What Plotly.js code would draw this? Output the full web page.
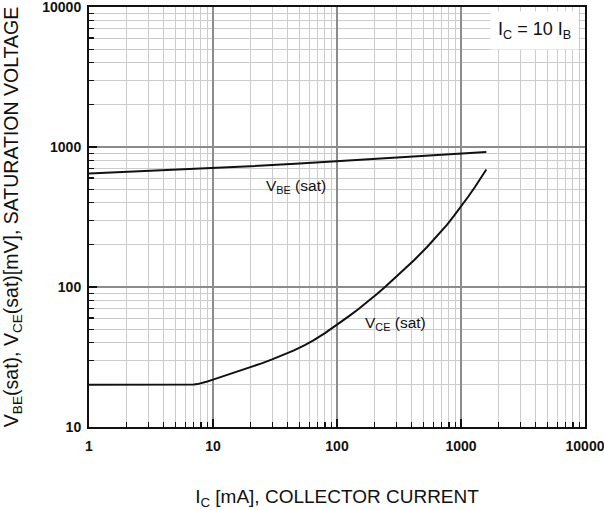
<!DOCTYPE html>
<html>
<head>
<meta charset="utf-8">
<script src="https://cdn.plot.ly/plotly-3.0.1.min.js"></script>
<style>html,body{margin:0;padding:0;background:#fff;}#chart{width:604px;height:510px;}</style>
</head>
<body>
<div id="chart"></div>
<script>
// Collector current [mA] and saturation voltages [mV]
var icVbe = [1, 2, 5, 10, 20, 50, 100, 200, 500, 1000, 1600];
var vbeSat = [648, 665, 690, 708, 728, 762, 792, 822, 862, 895, 920];

var icVce = [1, 4, 6.5, 7, 7.5, 8, 8.5, 9, 10, 11, 13, 16, 20, 25, 30, 35, 45, 55, 64, 80, 100, 125, 150, 184, 210, 244, 300, 350, 420, 533, 650, 770, 880, 1000, 1150, 1300, 1450, 1600];
var vceSat = [20, 20, 20, 20.08, 20.25, 20.5, 20.8, 21.12, 21.8, 22.4, 23.5, 24.9, 26.6, 28.6, 30.4, 32.1, 35.3, 38.5, 41.4, 46.8, 53.5, 62, 70, 80.5, 89, 100, 118, 134, 156, 193, 233, 278, 323, 375, 445, 520, 601, 690];

var xTickVals = [1, 10, 100, 1000, 10000];
var xTickText = ['1', '10', '100', '1000', '10000'];
var yTickVals = [10, 100, 1000, 10000];
var yTickText = ['10', '100', '1000', '10000'];

var FONT = 'Liberation Sans, Arial, sans-serif';
function bold(a) { return a.map(function (s) { return '<b>' + s + '</b>'; }); }

var traces = [
  {x: icVbe, y: vbeSat, mode: 'lines', line: {color: '#111', width: 2}, hoverinfo: 'none'},
  {x: icVce, y: vceSat, mode: 'lines', line: {color: '#111', width: 2}, hoverinfo: 'none'}
];

var axisCommon = {
  type: 'log',
  showline: true, linecolor: '#111', linewidth: 2, mirror: true,
  showgrid: true, gridcolor: '#8c8c8c', gridwidth: 1.5,
  ticks: 'inside', ticklen: 8, tickcolor: '#111', tickwidth: 1.5,
  tickfont: {family: FONT, size: 14, color: '#111'},
  ticklabeloverflow: 'allow',
  tickmode: 'array',
  zeroline: false,
  minor: {dtick: 'D1', showgrid: true, gridcolor: '#cccccc', gridwidth: 1, ticks: 'inside', ticklen: 5, tickcolor: '#111', tickwidth: 1.2}
};

var layout = {
  width: 604, height: 510,
  margin: {l: 89, r: 19, t: 7, b: 83},
  paper_bgcolor: '#fff', plot_bgcolor: '#fff',
  showlegend: false,
  xaxis: Object.assign({}, axisCommon, {
    range: [0, 4], tickvals: xTickVals, ticktext: bold(xTickText), ticklabelstandoff: 5,
    title: {text: 'I<sub>C</sub> [mA], COLLECTOR CURRENT', font: {family: FONT, size: 19, color: '#111'}, standoff: 37}
  }),
  yaxis: Object.assign({}, axisCommon, {
    range: [1, 4], tickvals: yTickVals, ticktext: bold(yTickText), ticklabelstandoff: 3,
    title: {text: 'V<sub>BE</sub>(sat), V<sub>CE</sub>(sat)[mV], SATURATION VOLTAGE', font: {family: FONT, size: 19.5, color: '#111'}, standoff: 20}
  }),
  annotations: [
    {x: Math.log10(47), y: Math.log10(518), xref: 'x', yref: 'y', text: 'V<sub>BE</sub> (sat)', showarrow: false, font: {family: FONT, size: 15.5, color: '#111'}},
    {x: Math.log10(299), y: Math.log10(55), xref: 'x', yref: 'y', text: 'V<sub>CE</sub> (sat)', showarrow: false, font: {family: FONT, size: 15.5, color: '#111'}},
    {x: Math.log10(3950), y: Math.log10(6800), xref: 'x', yref: 'y', text: 'I<sub>C</sub> = 10 I<sub>B</sub>', showarrow: false, bgcolor: '#fff', borderpad: 7, font: {family: FONT, size: 18, color: '#111'}}
  ]
};

Plotly.newPlot('chart', traces, layout, {staticPlot: true, displayModeBar: false});
</script>
</body>
</html>
